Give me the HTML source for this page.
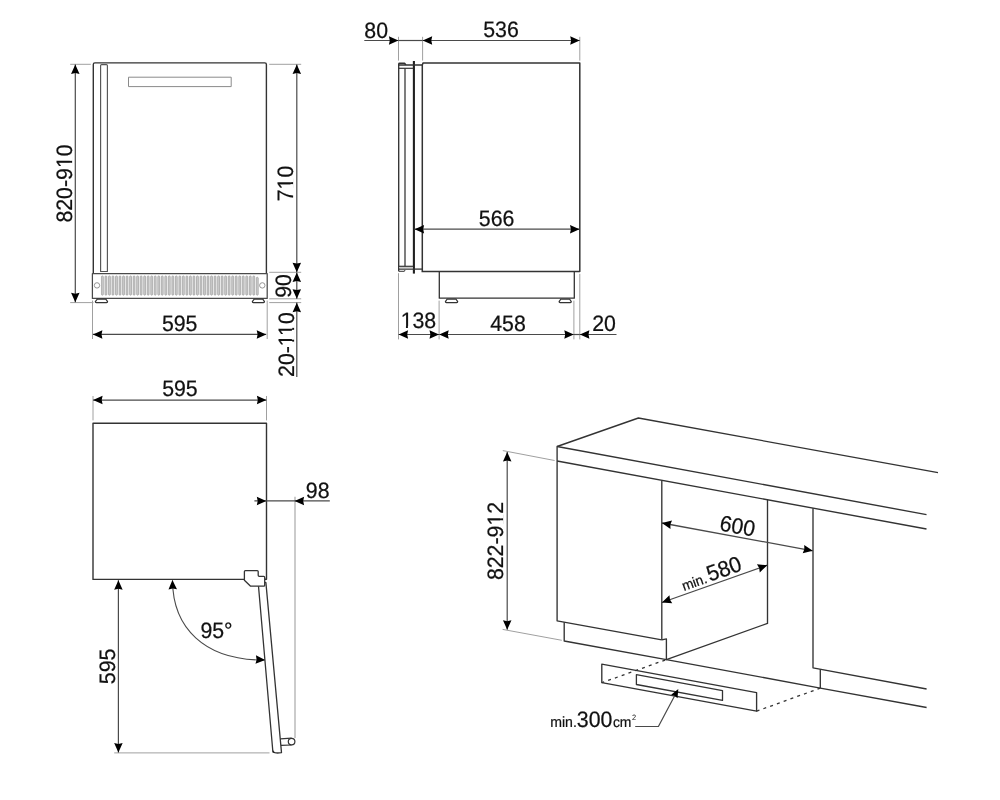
<!DOCTYPE html>
<html lang="en">
<head>
<meta charset="utf-8">
<title>Installation drawing</title>
<style>
html,body{margin:0;padding:0;background:#fff;}
body{width:1000px;height:800px;overflow:hidden;}
svg{display:block;will-change:transform;filter:grayscale(1);}
svg text{text-rendering:geometricPrecision;stroke:#111;stroke-width:0.22px;font-family:"Liberation Sans",Arial,Helvetica,sans-serif;fill:#111;}
</style>
</head>
<body>
<svg width="1000" height="800" viewBox="0 0 1000 800" stroke-linecap="butt" stroke-linejoin="round">
<rect x="0" y="0" width="1000" height="800" fill="#fff"/>
<path d="M93.3 273.5 V64.5 Q93.3 62.9 94.9 62.9 H264.8 Q266.4 62.9 266.4 64.5 V273.5" stroke="#333333" stroke-width="1.4" fill="none" />
<path d="M100.6 271.5 V65.55 Q100.6 64.55 101.6 64.55 H106.4 Q107.4 64.55 107.4 65.55 V271.5 Z" stroke="#555" stroke-width="1.15" fill="none" />
<rect x="128.5" y="77.2" width="102.7" height="9.4" fill="none" stroke="#8a8a8a" stroke-width="1"/>
<rect x="92.4" y="273.6" width="174.8" height="24.8" fill="#fff" stroke="#4a4a4a" stroke-width="1.25"/>
<rect x="101.45" y="275.9" width="1.9" height="19.3" rx="0.95" fill="#cccccc" stroke="#8c8c8c" stroke-width="0.55"/>
<rect x="104.97" y="275.9" width="1.9" height="19.3" rx="0.95" fill="#cccccc" stroke="#8c8c8c" stroke-width="0.55"/>
<rect x="108.49" y="275.9" width="1.9" height="19.3" rx="0.95" fill="#cccccc" stroke="#8c8c8c" stroke-width="0.55"/>
<rect x="112.01" y="275.9" width="1.9" height="19.3" rx="0.95" fill="#cccccc" stroke="#8c8c8c" stroke-width="0.55"/>
<rect x="115.53" y="275.9" width="1.9" height="19.3" rx="0.95" fill="#cccccc" stroke="#8c8c8c" stroke-width="0.55"/>
<rect x="119.05" y="275.9" width="1.9" height="19.3" rx="0.95" fill="#cccccc" stroke="#8c8c8c" stroke-width="0.55"/>
<rect x="122.57" y="275.9" width="1.9" height="19.3" rx="0.95" fill="#cccccc" stroke="#8c8c8c" stroke-width="0.55"/>
<rect x="126.09" y="275.9" width="1.9" height="19.3" rx="0.95" fill="#cccccc" stroke="#8c8c8c" stroke-width="0.55"/>
<rect x="129.61" y="275.9" width="1.9" height="19.3" rx="0.95" fill="#cccccc" stroke="#8c8c8c" stroke-width="0.55"/>
<rect x="133.13" y="275.9" width="1.9" height="19.3" rx="0.95" fill="#cccccc" stroke="#8c8c8c" stroke-width="0.55"/>
<rect x="136.65" y="275.9" width="1.9" height="19.3" rx="0.95" fill="#cccccc" stroke="#8c8c8c" stroke-width="0.55"/>
<rect x="140.18" y="275.9" width="1.9" height="19.3" rx="0.95" fill="#cccccc" stroke="#8c8c8c" stroke-width="0.55"/>
<rect x="143.70" y="275.9" width="1.9" height="19.3" rx="0.95" fill="#cccccc" stroke="#8c8c8c" stroke-width="0.55"/>
<rect x="147.22" y="275.9" width="1.9" height="19.3" rx="0.95" fill="#cccccc" stroke="#8c8c8c" stroke-width="0.55"/>
<rect x="150.74" y="275.9" width="1.9" height="19.3" rx="0.95" fill="#cccccc" stroke="#8c8c8c" stroke-width="0.55"/>
<rect x="154.26" y="275.9" width="1.9" height="19.3" rx="0.95" fill="#cccccc" stroke="#8c8c8c" stroke-width="0.55"/>
<rect x="157.78" y="275.9" width="1.9" height="19.3" rx="0.95" fill="#cccccc" stroke="#8c8c8c" stroke-width="0.55"/>
<rect x="161.30" y="275.9" width="1.9" height="19.3" rx="0.95" fill="#cccccc" stroke="#8c8c8c" stroke-width="0.55"/>
<rect x="164.82" y="275.9" width="1.9" height="19.3" rx="0.95" fill="#cccccc" stroke="#8c8c8c" stroke-width="0.55"/>
<rect x="168.34" y="275.9" width="1.9" height="19.3" rx="0.95" fill="#cccccc" stroke="#8c8c8c" stroke-width="0.55"/>
<rect x="171.86" y="275.9" width="1.9" height="19.3" rx="0.95" fill="#cccccc" stroke="#8c8c8c" stroke-width="0.55"/>
<rect x="175.38" y="275.9" width="1.9" height="19.3" rx="0.95" fill="#cccccc" stroke="#8c8c8c" stroke-width="0.55"/>
<rect x="178.90" y="275.9" width="1.9" height="19.3" rx="0.95" fill="#cccccc" stroke="#8c8c8c" stroke-width="0.55"/>
<rect x="182.42" y="275.9" width="1.9" height="19.3" rx="0.95" fill="#cccccc" stroke="#8c8c8c" stroke-width="0.55"/>
<rect x="185.94" y="275.9" width="1.9" height="19.3" rx="0.95" fill="#cccccc" stroke="#8c8c8c" stroke-width="0.55"/>
<rect x="189.46" y="275.9" width="1.9" height="19.3" rx="0.95" fill="#cccccc" stroke="#8c8c8c" stroke-width="0.55"/>
<rect x="192.98" y="275.9" width="1.9" height="19.3" rx="0.95" fill="#cccccc" stroke="#8c8c8c" stroke-width="0.55"/>
<rect x="196.50" y="275.9" width="1.9" height="19.3" rx="0.95" fill="#cccccc" stroke="#8c8c8c" stroke-width="0.55"/>
<rect x="200.02" y="275.9" width="1.9" height="19.3" rx="0.95" fill="#cccccc" stroke="#8c8c8c" stroke-width="0.55"/>
<rect x="203.54" y="275.9" width="1.9" height="19.3" rx="0.95" fill="#cccccc" stroke="#8c8c8c" stroke-width="0.55"/>
<rect x="207.06" y="275.9" width="1.9" height="19.3" rx="0.95" fill="#cccccc" stroke="#8c8c8c" stroke-width="0.55"/>
<rect x="210.58" y="275.9" width="1.9" height="19.3" rx="0.95" fill="#cccccc" stroke="#8c8c8c" stroke-width="0.55"/>
<rect x="214.10" y="275.9" width="1.9" height="19.3" rx="0.95" fill="#cccccc" stroke="#8c8c8c" stroke-width="0.55"/>
<rect x="217.62" y="275.9" width="1.9" height="19.3" rx="0.95" fill="#cccccc" stroke="#8c8c8c" stroke-width="0.55"/>
<rect x="221.15" y="275.9" width="1.9" height="19.3" rx="0.95" fill="#cccccc" stroke="#8c8c8c" stroke-width="0.55"/>
<rect x="224.67" y="275.9" width="1.9" height="19.3" rx="0.95" fill="#cccccc" stroke="#8c8c8c" stroke-width="0.55"/>
<rect x="228.19" y="275.9" width="1.9" height="19.3" rx="0.95" fill="#cccccc" stroke="#8c8c8c" stroke-width="0.55"/>
<rect x="231.71" y="275.9" width="1.9" height="19.3" rx="0.95" fill="#cccccc" stroke="#8c8c8c" stroke-width="0.55"/>
<rect x="235.23" y="275.9" width="1.9" height="19.3" rx="0.95" fill="#cccccc" stroke="#8c8c8c" stroke-width="0.55"/>
<rect x="238.75" y="275.9" width="1.9" height="19.3" rx="0.95" fill="#cccccc" stroke="#8c8c8c" stroke-width="0.55"/>
<rect x="242.27" y="275.9" width="1.9" height="19.3" rx="0.95" fill="#cccccc" stroke="#8c8c8c" stroke-width="0.55"/>
<rect x="245.79" y="275.9" width="1.9" height="19.3" rx="0.95" fill="#cccccc" stroke="#8c8c8c" stroke-width="0.55"/>
<rect x="249.31" y="275.9" width="1.9" height="19.3" rx="0.95" fill="#cccccc" stroke="#8c8c8c" stroke-width="0.55"/>
<rect x="252.83" y="275.9" width="1.9" height="19.3" rx="0.95" fill="#cccccc" stroke="#8c8c8c" stroke-width="0.55"/>
<rect x="256.35" y="277.2" width="1.9" height="18.0" rx="0.95" fill="#cccccc" stroke="#8c8c8c" stroke-width="0.55"/>
<circle cx="97.0" cy="285.4" r="2.7" fill="#fff" stroke="#8a8a8a" stroke-width="0.9"/>
<circle cx="262.3" cy="285.4" r="2.7" fill="#fff" stroke="#8a8a8a" stroke-width="0.9"/>
<path d="M97.3 299.2 H105.8 L107.6 301.6 Q107.6 302.6 106.6 302.6 H96.3 Q95.3 302.6 95.3 301.6 Z" stroke="#333333" stroke-width="1.2" fill="none" />
<path d="M254.2 299.2 H262.8 L264.5 301.6 Q264.5 302.6 263.5 302.6 H253.3 Q252.3 302.6 252.3 301.6 Z" stroke="#333333" stroke-width="1.2" fill="none" />
<line x1="70.20" y1="64.30" x2="90.80" y2="64.30" stroke="#a0a0a0" stroke-width="1" />
<line x1="70.20" y1="302.60" x2="93.50" y2="302.60" stroke="#a0a0a0" stroke-width="1" />
<line x1="269.20" y1="64.30" x2="301.20" y2="64.30" stroke="#a0a0a0" stroke-width="1" />
<line x1="269.20" y1="272.30" x2="301.20" y2="272.30" stroke="#a0a0a0" stroke-width="1" />
<line x1="269.20" y1="298.80" x2="301.20" y2="298.80" stroke="#a0a0a0" stroke-width="1" />
<line x1="269.20" y1="302.60" x2="301.20" y2="302.60" stroke="#a0a0a0" stroke-width="1" />
<line x1="92.50" y1="300.50" x2="92.50" y2="339.00" stroke="#a0a0a0" stroke-width="1" />
<line x1="267.20" y1="300.50" x2="267.20" y2="339.00" stroke="#a0a0a0" stroke-width="1" />
<line x1="75.30" y1="64.50" x2="75.30" y2="302.30" stroke="#4a4a4a" stroke-width="1.2" />
<polygon points="75.30,64.50 79.55,74.00 75.30,73.10 71.05,74.00" fill="#000"/>
<polygon points="75.30,302.30 71.05,292.80 75.30,293.70 79.55,292.80" fill="#000"/>
<line x1="296.80" y1="64.50" x2="296.80" y2="272.20" stroke="#4a4a4a" stroke-width="1.2" />
<polygon points="296.80,64.50 301.05,74.00 296.80,73.10 292.55,74.00" fill="#000"/>
<polygon points="296.80,272.20 292.55,262.70 296.80,263.60 301.05,262.70" fill="#000"/>
<line x1="296.80" y1="272.40" x2="296.80" y2="298.70" stroke="#4a4a4a" stroke-width="1.2" />
<polygon points="296.80,272.40 301.05,281.90 296.80,281.00 292.55,281.90" fill="#000"/>
<polygon points="296.80,298.70 292.55,289.20 296.80,290.10 301.05,289.20" fill="#000"/>
<line x1="296.80" y1="302.60" x2="296.80" y2="377.00" stroke="#4a4a4a" stroke-width="1.2" />
<polygon points="296.80,302.70 301.05,312.20 296.80,311.30 292.55,312.20" fill="#000"/>
<line x1="92.90" y1="334.40" x2="266.20" y2="334.40" stroke="#4a4a4a" stroke-width="1.2" />
<polygon points="92.90,334.40 102.40,330.15 101.50,334.40 102.40,338.65" fill="#000"/>
<polygon points="266.20,334.40 256.70,338.65 257.60,334.40 256.70,330.15" fill="#000"/>
<text transform="translate(72.30 183.50) rotate(-90) scale(1 1.047)" font-size="21.3" text-anchor="middle" >820-910</text>
<g transform="translate(72.30 183.50) rotate(-90) scale(1 1.047)" fill="#fff"><rect x="15.08" y="-2.34" width="5.63" height="2.84"/><rect x="22.67" y="-2.34" width="4.89" height="2.84"/></g>
<text transform="translate(293.00 183.50) rotate(-90) scale(1 1.047)" font-size="21.3" text-anchor="middle" >710</text>
<g transform="translate(293.00 183.50) rotate(-90) scale(1 1.047)" fill="#fff"><rect x="-6.24" y="-2.34" width="5.63" height="2.84"/><rect x="1.36" y="-2.34" width="4.89" height="2.84"/></g>
<text transform="translate(290.50 285.90) rotate(-90) scale(1 1.047)" font-size="21.3" text-anchor="middle" >90</text>
<text transform="translate(294.30 344.60) rotate(-90) scale(1 1.047)" font-size="21.3" text-anchor="middle" >20-110</text>
<g transform="translate(294.30 344.60) rotate(-90) scale(1 1.047)" fill="#fff"><rect x="-2.69" y="-2.34" width="5.63" height="2.84"/><rect x="4.90" y="-2.34" width="4.89" height="2.84"/><rect x="9.16" y="-2.34" width="5.63" height="2.84"/><rect x="16.75" y="-2.34" width="4.89" height="2.84"/></g>
<text transform="translate(179.70 330.90) scale(1 1.047)" font-size="21.3" text-anchor="middle" >595</text>
<path d="M422.3 271.5 V65 L423 63 H579.8 V271.5 H421.5" stroke="#333333" stroke-width="1.5" fill="none" />
<path d="M439.3 271.5 V298.2 H574.3 V271.5" stroke="#333333" stroke-width="1.3" fill="none" />
<path d="M447.2 299 H455.9 L457.7 301.6 Q457.7 302.5 456.7 302.5 H446.4 Q445.4 302.5 445.4 301.6 Z" stroke="#333333" stroke-width="1.25" fill="none" />
<path d="M560.9 299 H569.5 L571.3 301.6 Q571.3 302.5 570.3 302.5 H560.1 Q559.1 302.5 559.1 301.6 Z" stroke="#333333" stroke-width="1.25" fill="none" />
<line x1="413.90" y1="61.00" x2="413.90" y2="273.60" stroke="#202020" stroke-width="2.1" />
<path d="M398.7 271.3 V64 Q398.7 63.2 399.5 63.2 H404.6 L406 65 H422.3 M398.7 65 H406" stroke="#333333" stroke-width="1.35" fill="none" />
<line x1="398.70" y1="68.30" x2="413.20" y2="68.30" stroke="#333333" stroke-width="1.2" />
<line x1="405.00" y1="68.30" x2="405.00" y2="266.30" stroke="#3a3a3a" stroke-width="1.3" />
<line x1="398.70" y1="266.30" x2="413.20" y2="266.30" stroke="#333333" stroke-width="1.2" />
<line x1="398.70" y1="269.10" x2="422.30" y2="269.10" stroke="#333333" stroke-width="1.3" />
<line x1="399.30" y1="267.70" x2="413.00" y2="267.70" stroke="#c4c4c4" stroke-width="1.2" />
<path d="M398.7 271.3 H404.4 L405 270" stroke="#333333" stroke-width="1.0" fill="none" />
<line x1="398.50" y1="36.80" x2="398.50" y2="60.60" stroke="#a0a0a0" stroke-width="1" />
<line x1="422.60" y1="36.80" x2="422.60" y2="60.60" stroke="#a0a0a0" stroke-width="1" />
<line x1="579.80" y1="36.80" x2="579.80" y2="60.60" stroke="#a0a0a0" stroke-width="1" />
<line x1="398.50" y1="273.20" x2="398.50" y2="339.40" stroke="#a0a0a0" stroke-width="1" />
<line x1="439.10" y1="300.60" x2="439.10" y2="339.40" stroke="#a0a0a0" stroke-width="1" />
<line x1="573.90" y1="300.60" x2="573.90" y2="339.40" stroke="#a0a0a0" stroke-width="1" />
<line x1="579.80" y1="273.80" x2="579.80" y2="339.40" stroke="#a0a0a0" stroke-width="1" />
<line x1="364.30" y1="40.50" x2="398.50" y2="40.50" stroke="#4a4a4a" stroke-width="1.2" />
<polygon points="398.40,40.50 388.90,44.75 389.80,40.50 388.90,36.25" fill="#000"/>
<line x1="398.50" y1="40.50" x2="422.60" y2="40.50" stroke="#4a4a4a" stroke-width="1.2" />
<line x1="422.70" y1="40.50" x2="579.70" y2="40.50" stroke="#4a4a4a" stroke-width="1.2" />
<polygon points="422.70,40.50 432.20,36.25 431.30,40.50 432.20,44.75" fill="#000"/>
<polygon points="579.70,40.50 570.20,44.75 571.10,40.50 570.20,36.25" fill="#000"/>
<line x1="414.60" y1="229.20" x2="579.50" y2="229.20" stroke="#4a4a4a" stroke-width="1.2" />
<polygon points="414.60,229.20 424.10,224.95 423.20,229.20 424.10,233.45" fill="#000"/>
<polygon points="579.50,229.20 570.00,233.45 570.90,229.20 570.00,224.95" fill="#000"/>
<line x1="398.60" y1="334.50" x2="439.00" y2="334.50" stroke="#4a4a4a" stroke-width="1.2" />
<polygon points="398.60,334.50 408.10,330.25 407.20,334.50 408.10,338.75" fill="#000"/>
<polygon points="439.00,334.50 429.50,338.75 430.40,334.50 429.50,330.25" fill="#000"/>
<line x1="439.20" y1="334.50" x2="573.80" y2="334.50" stroke="#4a4a4a" stroke-width="1.2" />
<polygon points="439.20,334.50 448.70,330.25 447.80,334.50 448.70,338.75" fill="#000"/>
<polygon points="573.80,334.50 564.30,338.75 565.20,334.50 564.30,330.25" fill="#000"/>
<line x1="573.90" y1="334.50" x2="579.80" y2="334.50" stroke="#4a4a4a" stroke-width="1.2" />
<line x1="579.80" y1="334.50" x2="616.50" y2="334.50" stroke="#4a4a4a" stroke-width="1.2" />
<polygon points="579.90,334.50 589.40,330.25 588.50,334.50 589.40,338.75" fill="#000"/>
<text transform="translate(376.20 37.60) scale(1 1.047)" font-size="21.3" text-anchor="middle" >80</text>
<text transform="translate(501.00 37.40) scale(1 1.047)" font-size="21.3" text-anchor="middle" >536</text>
<text transform="translate(496.60 225.80) scale(1 1.047)" font-size="21.3" text-anchor="middle" >566</text>
<text transform="translate(418.40 328.40) scale(1 1.047)" font-size="21.3" text-anchor="middle" >138</text>
<g transform="translate(418.40 328.40) scale(1 1.047)" fill="#fff"><rect x="-18.08" y="-2.34" width="5.63" height="2.84"/><rect x="-10.49" y="-2.34" width="4.89" height="2.84"/></g>
<text transform="translate(508.00 330.70) scale(1 1.047)" font-size="21.3" text-anchor="middle" >458</text>
<text transform="translate(604.00 330.60) scale(1 1.047)" font-size="21.3" text-anchor="middle" >20</text>
<path d="M244.4 579.4 H93 V423.2 H266.5 V579.3 H264.8" stroke="#333333" stroke-width="1.4" fill="none" />
<path d="M245.4 570.6 H257.2 Q258.2 570.6 258.2 571.6 V575.3 Q258.2 576.3 259.2 576.3 H263.7 Q264.7 576.3 264.7 577.3 V585.2 Q264.7 586.2 263.7 586.2 H250.6 L244.4 580.3 V571.6 Q244.4 570.6 245.4 570.6 Z" stroke="#333333" stroke-width="1.3" fill="#fff" />
<path d="M258.5 586.2 L272.9 752 Q275.5 753.6 281.5 752.6 L265.9 582.6 L264.8 582.3" stroke="#333333" stroke-width="1.3" fill="none" />
<polygon points="272.75,750.0 275.6,753.0 272.95,752.4" fill="#222"/>
<path d="M280.4 738.9 L291.6 738.2 M281.0 745.3 L291.6 745.0" stroke="#333333" stroke-width="1.2" fill="none" />
<circle cx="291.6" cy="741.6" r="3.3" fill="#fff" stroke="#333333" stroke-width="1.2"/>
<line x1="93.00" y1="396.00" x2="93.00" y2="420.40" stroke="#a0a0a0" stroke-width="1" />
<line x1="266.50" y1="396.00" x2="266.50" y2="420.40" stroke="#a0a0a0" stroke-width="1" />
<line x1="295.00" y1="496.80" x2="295.00" y2="738.00" stroke="#a0a0a0" stroke-width="1.1" />
<line x1="114.20" y1="752.90" x2="269.50" y2="752.90" stroke="#a0a0a0" stroke-width="1" />
<line x1="93.10" y1="400.10" x2="266.40" y2="400.10" stroke="#4a4a4a" stroke-width="1.2" />
<polygon points="93.10,400.10 102.60,395.85 101.70,400.10 102.60,404.35" fill="#000"/>
<polygon points="266.40,400.10 256.90,404.35 257.80,400.10 256.90,395.85" fill="#000"/>
<line x1="254.40" y1="500.90" x2="329.80" y2="500.90" stroke="#4a4a4a" stroke-width="1.2" />
<polygon points="266.30,500.90 256.80,505.15 257.70,500.90 256.80,496.65" fill="#000"/>
<polygon points="294.60,500.90 304.10,496.65 303.20,500.90 304.10,505.15" fill="#000"/>
<line x1="118.40" y1="580.20" x2="118.40" y2="752.60" stroke="#4a4a4a" stroke-width="1.2" />
<polygon points="118.40,580.20 122.65,589.70 118.40,588.80 114.15,589.70" fill="#000"/>
<polygon points="118.40,752.60 114.15,743.10 118.40,744.00 122.65,743.10" fill="#000"/>
<path d="M172.5 580.5 C172.8 627.0 203.5 660.4 264.4 660.0" stroke="#4a4a4a" stroke-width="1.1" fill="none" />
<polygon points="172.40,579.90 176.98,589.25 172.70,588.49 168.48,589.54" fill="#000"/>
<polygon points="265.20,660.10 255.49,663.85 256.61,659.65 255.94,655.36" fill="#000"/>
<text transform="translate(179.90 396.00) scale(1 1.047)" font-size="21.3" text-anchor="middle" >595</text>
<text transform="translate(317.70 498.00) scale(1 1.047)" font-size="21.3" text-anchor="middle" >98</text>
<text transform="translate(114.60 666.40) rotate(-90) scale(1 1.047)" font-size="21.3" text-anchor="middle" >595</text>
<text transform="translate(216.50 637.70) scale(1 1.047)" font-size="21.3" text-anchor="middle" >95°</text>
<path d="M557.1 461 V446.5 L638.4 418 L938 472.7" stroke="#333333" stroke-width="1.35" fill="none" />
<line x1="557.10" y1="446.50" x2="926.50" y2="514.60" stroke="#333333" stroke-width="1.35" />
<line x1="557.10" y1="461.00" x2="926.50" y2="529.00" stroke="#333333" stroke-width="1.35" />
<path d="M557.1 461 V620.8 L661.8 639.8" stroke="#333333" stroke-width="1.35" fill="none" />
<line x1="661.80" y1="480.40" x2="661.80" y2="639.80" stroke="#333333" stroke-width="1.35" />
<path d="M564.2 622.2 V641.0 L666.4 659.6 V638.8 L661.8 639.8" stroke="#333333" stroke-width="1.35" fill="none" />
<path d="M666.4 659.6 L820.3 688.1 L926.6 707.5" stroke="#333333" stroke-width="1.35" fill="none" />
<path d="M767.5 500 V623.4 L666.4 659.6" stroke="#333333" stroke-width="1.35" fill="none" />
<path d="M813 508.2 V667.8 L926.6 689.0" stroke="#333333" stroke-width="1.35" fill="none" />
<line x1="820.30" y1="669.20" x2="820.30" y2="687.90" stroke="#333333" stroke-width="1.35" />
<path d="M601.8 664.2 L756.6 692.7 V711.2 L601.8 682.7 Z" stroke="#333333" stroke-width="1.35" fill="none" />
<path d="M636.4 674.7 L722.5 690.6 V700.4 L636.4 684.5 Z" stroke="#333333" stroke-width="1.3" fill="none" />
<line x1="601.80" y1="682.70" x2="666.40" y2="659.60" stroke="#333333" stroke-width="1.3" stroke-dasharray="3 4.2" stroke-dashoffset="0.5"/>
<line x1="756.60" y1="711.20" x2="820.30" y2="688.10" stroke="#333333" stroke-width="1.3" stroke-dasharray="3 4.2"/>
<path d="M635.2 726.5 H658.4 L677.2 691" stroke="#4a4a4a" stroke-width="1.2" fill="none" />
<polygon points="678.30,689.00 677.49,698.20 674.73,695.71 671.13,694.81" fill="#000"/>
<line x1="661.90" y1="523.00" x2="812.80" y2="550.80" stroke="#4a4a4a" stroke-width="1.3" />
<polygon points="661.90,523.00 672.01,520.54 670.36,524.56 670.47,528.90" fill="#000"/>
<polygon points="812.80,550.80 802.69,553.26 804.34,549.24 804.23,544.90" fill="#000"/>
<line x1="661.90" y1="602.50" x2="767.30" y2="565.20" stroke="#4a4a4a" stroke-width="1.3" />
<polygon points="661.90,602.50 669.44,595.32 670.01,599.63 672.27,603.34" fill="#000"/>
<polygon points="767.30,565.20 759.76,572.38 759.19,568.07 756.93,564.36" fill="#000"/>
<line x1="507.20" y1="452.00" x2="507.20" y2="629.80" stroke="#4a4a4a" stroke-width="1.2" />
<polygon points="507.20,452.00 511.45,461.50 507.20,460.60 502.95,461.50" fill="#000"/>
<polygon points="507.20,629.80 502.95,620.30 507.20,621.20 511.45,620.30" fill="#000"/>
<line x1="502.80" y1="450.60" x2="554.60" y2="460.50" stroke="#a0a0a0" stroke-width="1" />
<line x1="502.60" y1="629.40" x2="561.80" y2="640.30" stroke="#a0a0a0" stroke-width="1" />
<text transform="translate(502.80 541.00) rotate(-90) scale(1 1.047)" font-size="21.3" text-anchor="middle" >822-912</text>
<g transform="translate(502.80 541.00) rotate(-90) scale(1 1.047)" fill="#fff"><rect x="15.08" y="-2.34" width="5.63" height="2.84"/><rect x="22.67" y="-2.34" width="4.89" height="2.84"/></g>
<text transform="translate(736.10 533.50) rotate(10.44) scale(1 1.047)" font-size="21.3" text-anchor="middle" >600</text>
<text transform="translate(713.6 580.5) rotate(-19.49) scale(1 1.047)" text-anchor="middle"><tspan font-size="13.5">min.</tspan><tspan font-size="21.3" dx="1.9">580</tspan></text>
<text transform="translate(550.2 726.5) scale(1 1.047)"><tspan font-size="14.1">min.</tspan><tspan font-size="21.3" dx="0">300</tspan><tspan font-size="13.9" dx="0.5">cm</tspan><tspan font-size="7.4" dy="-6.0" dx="0.6" stroke="none">2</tspan></text>
</svg>
</body>
</html>
